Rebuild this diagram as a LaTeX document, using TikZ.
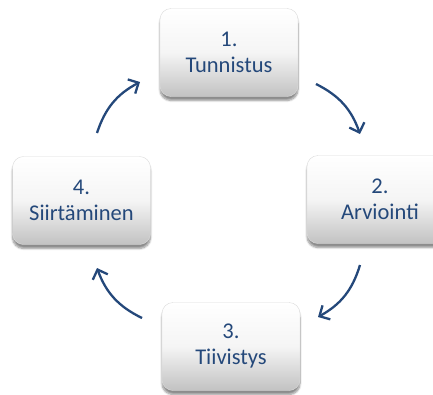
\documentclass[tikz,border=0pt]{standalone}
\usepackage{fontspec}
\setmainfont{Carlito}
\usetikzlibrary{arrows.meta,shadows.blur}
\definecolor{txtblue}{RGB}{36,72,122}
\definecolor{arrblue}{RGB}{36,72,122}
\tikzset{
  stepbox/.style={rounded corners=11pt, minimum width=138pt, minimum height=88pt,
    top color=white, bottom color=black!24, middle color=white!96!black,
    draw=black!14, line width=0.4pt,
    blur shadow={shadow xshift=0pt, shadow yshift=-4pt, shadow blur steps=8, shadow opacity=45},
    text=txtblue, align=center, font=\fontsize{22.5}{26}\selectfont, inner sep=0pt},
  cyc/.style={draw=arrblue, line width=2.3pt, -{Straight Barb[length=8pt,width=16pt,line width=2.3pt]}}
}
\begin{document}
\begin{tikzpicture}[x=1pt,y=-1pt]
\clip (0,0) rectangle (433,394);
\useasboundingbox (0,0) rectangle (433,394);
\node[stepbox] (n1) at (229,52.5) {1.\\Tunnistus};
\node[stepbox, minimum width=146pt] (n2) at (380,199.5) {2.\\Arviointi};
\node[stepbox] (n3) at (231,346.5) {3.\\Tiivistys};
\node[stepbox] (n4) at (81.5,200.5) {4.\\Siirtäminen};
\coordinate (a1s) at (316,84);
\coordinate (a1e) at (360,134);
\coordinate (a2s) at (360,265);
\coordinate (a2e) at (318,317);
\coordinate (a3s) at (142,318);
\coordinate (a3e) at (97,268);
\coordinate (a4s) at (97,133);
\coordinate (a4e) at (140,82);
\draw[cyc] (a1s) to[bend left=22] (a1e);
\draw[cyc] (a2s) to[bend left=22] (a2e);
\draw[cyc] (a3s) to[bend left=22] (a3e);
\draw[cyc] (a4s) to[bend left=22] (a4e);
\end{tikzpicture}
\end{document}
